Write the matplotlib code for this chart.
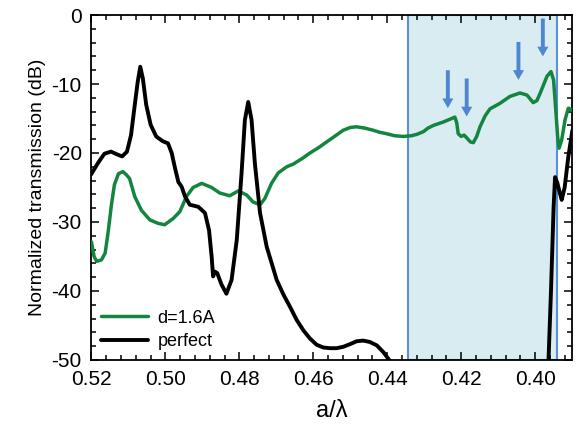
import numpy as np
import matplotlib
matplotlib.use('Agg')
import matplotlib.pyplot as plt
from matplotlib.patches import Rectangle
from matplotlib.ticker import MultipleLocator

plt.rcParams['font.family'] = ['Liberation Sans', 'DejaVu Sans']
plt.rcParams['axes.unicode_minus'] = False

# transmission spectra, x = a/lambda, y = dB
perfect_x = [0.5201, 0.5183, 0.5165, 0.5147, 0.5131, 0.5117, 0.5104, 0.5093, 0.5084,
             0.5075, 0.5068, 0.5061, 0.5052, 0.5040, 0.5025, 0.5007, 0.4993, 0.4983,
             0.4974, 0.4965, 0.4956, 0.4947, 0.4934, 0.4911, 0.4893, 0.4882, 0.4875,
             0.4871, 0.4866, 0.4860, 0.4848, 0.4835, 0.4821, 0.4807, 0.4794, 0.4785,
             0.4776, 0.4767, 0.4758, 0.4744, 0.4726, 0.4699, 0.4681, 0.4663, 0.4645,
             0.4627, 0.4609, 0.4591, 0.4573, 0.4555, 0.4537, 0.4519, 0.4500, 0.4483,
             0.4465, 0.4447, 0.4428, 0.4410, 0.4392, 0.4380,
             0.3970, 0.3964, 0.3957, 0.3950, 0.3946, 0.3940, 0.3933, 0.3928, 0.3920,
             0.3910, 0.3899]
perfect_y = [-23.1, -21.5, -20.1, -19.8, -20.2, -20.5, -19.8, -17.4, -13.5,
             -9.7, -7.5, -9.2, -13.0, -15.9, -17.6, -18.3, -18.6, -20.0,
             -22.2, -24.2, -24.9, -26.3, -27.5, -27.8, -28.7, -31.2, -35.0,
             -37.9, -37.2, -37.4, -39.1, -40.4, -38.4, -32.6, -22.9, -15.2,
             -12.6, -15.2, -21.5, -28.7, -33.6, -38.4, -40.5, -42.3, -44.2,
             -45.7, -46.9, -47.8, -48.2, -48.3, -48.3, -48.1, -47.7, -47.3,
             -47.2, -47.4, -47.9, -48.9, -50.2, -51.5,
             -56.0, -50.5, -40.0, -28.0, -23.5, -24.3, -25.8, -26.8, -25.0,
             -20.5, -16.7]

defect_x = [0.5200, 0.5193, 0.5186, 0.5173, 0.5163, 0.5155, 0.5146, 0.5138, 0.5127,
            0.5115, 0.5105, 0.5097, 0.5083, 0.5065, 0.5042, 0.5020, 0.5002, 0.4979,
            0.4961, 0.4943, 0.4925, 0.4902, 0.4875, 0.4853, 0.4826, 0.4803, 0.4780,
            0.4763, 0.4744, 0.4731, 0.4713, 0.4695, 0.4672, 0.4654, 0.4630, 0.4609,
            0.4585, 0.4564, 0.4540, 0.4519, 0.4500, 0.4483, 0.4460, 0.4438, 0.4420,
            0.4402, 0.4380, 0.4356, 0.4335, 0.4320, 0.4302, 0.4290, 0.4275, 0.4248,
            0.4230, 0.4217, 0.4212, 0.4208, 0.4200, 0.4192, 0.4185, 0.4175, 0.4167,
            0.4158, 0.4149, 0.4135, 0.4122, 0.4095, 0.4068, 0.4041, 0.4022, 0.4005,
            0.3995, 0.3986, 0.3968, 0.3957, 0.3950, 0.3944, 0.3939, 0.3935, 0.3928,
            0.3919, 0.3910, 0.3900]
defect_y = [-32.9, -35.0, -35.7, -35.5, -34.5, -31.5, -27.5, -24.6, -23.0,
            -22.7, -23.2, -23.7, -26.3, -28.3, -29.7, -30.2, -30.4, -29.5,
            -28.5, -26.3, -25.0, -24.4, -25.0, -25.8, -26.2, -25.5, -26.1,
            -27.1, -27.5, -26.6, -24.4, -22.9, -22.0, -21.6, -20.8, -20.0,
            -19.2, -18.4, -17.5, -16.7, -16.3, -16.2, -16.4, -16.7, -17.0,
            -17.2, -17.5, -17.6, -17.5, -17.3, -16.9, -16.4, -16.0, -15.5,
            -15.1, -14.8, -15.6, -17.2, -17.6, -17.4, -17.8, -18.4, -18.5,
            -17.6, -16.2, -14.6, -13.6, -12.8, -11.8, -11.3, -11.6, -12.7,
            -12.4, -11.3, -8.9, -8.2, -9.4, -13.8, -17.6, -19.3, -18.1,
            -15.2, -13.5, -13.8]

# defect-mode markers (x, arrow top, arrow tip)
arrow_x = [0.4236, 0.4185, 0.4045, 0.3979]
arrow_top = [-8.0, -9.2, -3.9, -0.5]
arrow_tip = [-13.5, -14.7, -9.4, -6.0]

band_lo, band_hi = 0.3941, 0.4345

fig = plt.figure(figsize=(5.79, 4.30), dpi=100)
ax = fig.add_axes([0.158, 0.163, 0.830, 0.802])

ax.add_patch(Rectangle((band_lo, -50), band_hi - band_lo, 50,
                       facecolor='#d9ecf1', edgecolor='#5b8fd6', lw=1.5, zorder=1))

ax.plot(defect_x, defect_y, color='#14853f', lw=2.5, label='d=1.6A', zorder=3,
        solid_joinstyle='round', solid_capstyle='round')
ax.plot(perfect_x, perfect_y, color='black', lw=2.8, label='perfect', zorder=3,
        solid_joinstyle='round', solid_capstyle='round')

for x, y0, y1 in zip(arrow_x, arrow_top, arrow_tip):
    ax.annotate('', xy=(x, y1), xytext=(x, y0),
                arrowprops=dict(arrowstyle='simple,head_width=0.8,head_length=0.7,tail_width=0.28',
                                color='#4f86d2', lw=0, shrinkA=0, shrinkB=0), zorder=4)

ax.set_xlim(0.52, 0.39)
ax.set_ylim(-50, 0)
ax.xaxis.set_minor_locator(MultipleLocator(0.004))
ax.yaxis.set_major_locator(MultipleLocator(10))
ax.yaxis.set_minor_locator(MultipleLocator(2))
ax.set_xticks([0.52, 0.50, 0.48, 0.46, 0.44, 0.42, 0.40])
ax.set_xticklabels(['0.52', '0.50', '0.48', '0.46', '0.44', '0.42', '0.40'])
ax.tick_params(which='both', direction='in', top=True, right=True, labelsize=15, width=1.1)
ax.tick_params(which='major', length=6, pad=7)
ax.tick_params(which='minor', length=3.5)
for s in ax.spines.values():
    s.set_linewidth(1.3)

ax.set_xlabel('a/\u03bb', fontsize=17, labelpad=8)
ax.set_ylabel('Normalized transmission (dB)', fontsize=14, labelpad=4)

ax.legend(loc='lower left', frameon=False, fontsize=13, handlelength=2.6,
          labelspacing=0.35, borderaxespad=0.15, handletextpad=0.5)

fig.savefig('out.png', dpi=100)
